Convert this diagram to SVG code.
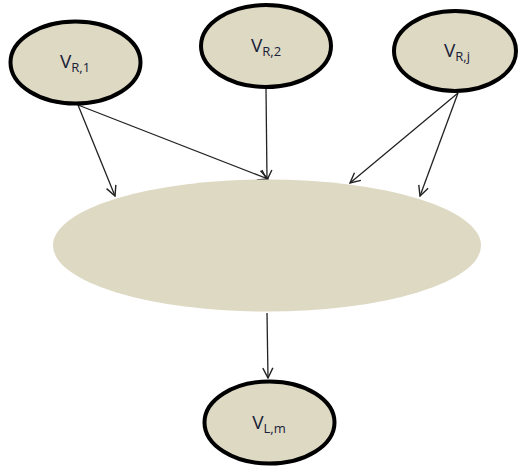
<svg xmlns="http://www.w3.org/2000/svg" width="519" height="466" viewBox="0 0 519 466">
  <style>
    .node { fill: #ddd9c3; stroke: #000; stroke-width: 4; }
    .hub { fill: #ddd9c3; stroke: none; }
    .edge { stroke: #222; stroke-width: 1.3; fill: none; marker-end: url(#open); }
    .lbl { font-family: "Open Sans", "Liberation Sans", sans-serif; font-size: 19px; fill: #1a2238; text-anchor: middle; }
    .sub { font-size: 13px; }
  </style>
  <defs>
    <marker id="open" viewBox="0 0 12 12" refX="11" refY="6" markerWidth="12" markerHeight="12" markerUnits="userSpaceOnUse" orient="auto">
      <polyline points="1,1 11,6 1,11" fill="none" stroke="#222" stroke-width="1.4"/>
    </marker>
  </defs>
  <rect width="519" height="466" fill="#fff"/>

  <g id="connectors">
    <line class="edge" x1="78" y1="105" x2="115" y2="196"/>
    <line class="edge" x1="78" y1="105" x2="268" y2="179"/>
    <line class="edge" x1="266" y1="88" x2="267" y2="180"/>
    <line class="edge" x1="458" y1="93" x2="350" y2="183"/>
    <line class="edge" x1="458" y1="93" x2="420" y2="196"/>
    <line class="edge" x1="267" y1="313" x2="268" y2="378"/>
  </g>

  <g id="hub">
    <ellipse class="hub" cx="267" cy="245.5" rx="214" ry="66"/>
  </g>

  <g id="vr1">
    <ellipse class="node" cx="75.5" cy="62.5" rx="65" ry="41"/>
    <text class="lbl" x="75" y="68">V<tspan class="sub" dy="4">R,1</tspan></text>
  </g>

  <g id="vr2">
    <ellipse class="node" cx="266" cy="46" rx="65" ry="41"/>
    <text class="lbl" x="266" y="52">V<tspan class="sub" dy="4">R,2</tspan></text>
  </g>

  <g id="vrj">
    <ellipse class="node" cx="455" cy="51" rx="61" ry="40"/>
    <text class="lbl" x="457" y="57">V<tspan class="sub" dy="4">R,j</tspan></text>
  </g>

  <g id="vlm">
    <ellipse class="node" cx="269.5" cy="422.5" rx="65" ry="41"/>
    <text class="lbl" x="269" y="429">V<tspan class="sub" dy="4">L,m</tspan></text>
  </g>
</svg>
